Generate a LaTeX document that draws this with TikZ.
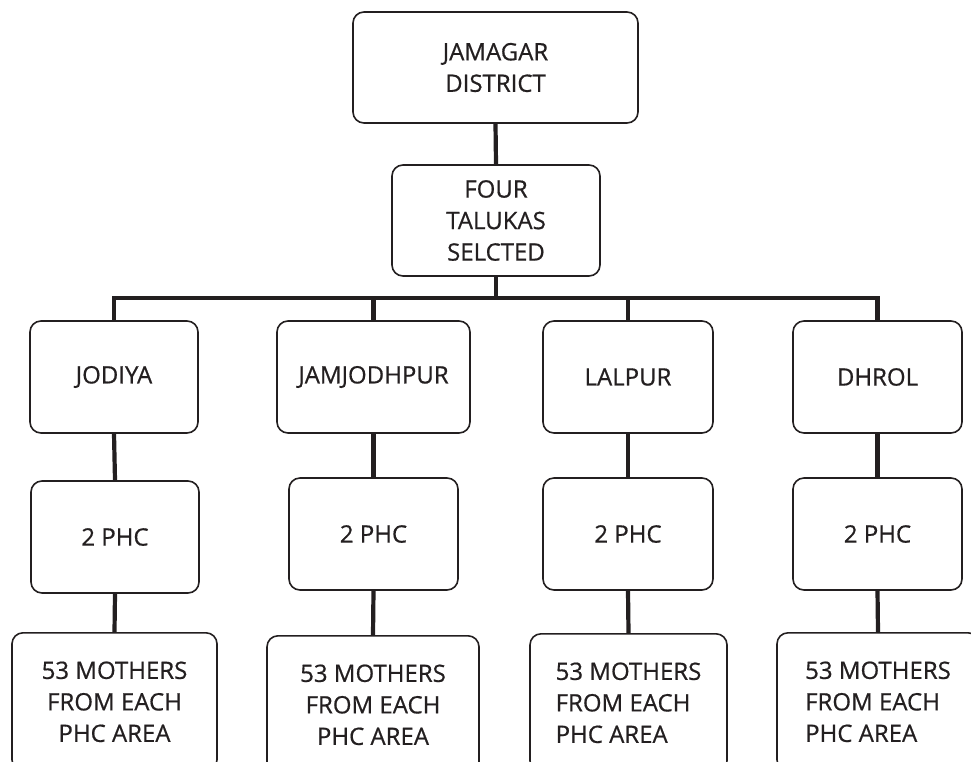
\documentclass[tikz,border=0pt]{standalone}
\usepackage{fontspec}
\setmainfont[FakeBold=0.6,AutoFakeBold=0.6]{Open Sans}
\definecolor{ink}{RGB}{35,31,32}
\begin{document}
\begin{tikzpicture}[x=1pt,y=-1pt,
  box/.style={draw=ink, line width=1.6pt, rounded corners=11pt, inner sep=0pt,
    text=ink, align=center, font=\fontsize{24}{31.5}\selectfont},
  conn/.style={draw=ink, line width=4.2pt, line join=miter, line cap=butt}]
\useasboundingbox (0,0) rectangle (971,761);
\clip (0,0) rectangle (971,761);
% top levels
\node[box, minimum width=285pt, minimum height=111pt] (top) at (495.5,67.5) {JAMAGAR\\DISTRICT};
\node[box, minimum width=208pt, minimum height=111pt] (sel) at (496,220.5) {FOUR\\TALUKAS\\SELCTED};
% talukas
\node[box, minimum width=168pt, minimum height=112pt] (j1) at (114,377) {JODIYA};
\node[box, minimum width=193pt, minimum height=112pt] (j2) at (373.5,377) {JAMJODHPUR};
\node[box, minimum width=170pt, minimum height=112pt] (j3) at (628,377) {LALPUR};
\node[box, minimum width=169pt, minimum height=112pt] (j4) at (877.5,377) {DHROL};
% PHC
\node[box, minimum width=168pt, minimum height=112pt] (p1) at (115,537) {2 PHC};
\node[box, minimum width=169pt, minimum height=112pt] (p2) at (373.5,534) {2 PHC};
\node[box, minimum width=170pt, minimum height=112pt] (p3) at (628,534) {2 PHC};
\node[box, minimum width=169pt, minimum height=112pt] (p4) at (877.5,534) {2 PHC};
% mothers
\node[box, minimum width=205pt, minimum height=138pt, anchor=north] (m1) at (114.5,632) {53 MOTHERS\\FROM EACH\\PHC AREA};
\node[box, minimum width=212pt, minimum height=138pt, anchor=north] (m2) at (373,635) {53 MOTHERS\\FROM EACH\\PHC AREA};
\node[box, minimum width=197pt, minimum height=138pt, anchor=north, align=left] (m3) at (628.5,633) {53 MOTHERS\\FROM EACH\\PHC AREA};
\node[box, minimum width=202pt, minimum height=138pt, anchor=north, align=left] (m4) at (878,632) {53 MOTHERS\\FROM EACH\\PHC AREA};
% connectors
\coordinate (bar) at (495,298);
\draw[conn] (top.south) -- (sel.north);
\draw[conn] (sel.south) -- (sel.south |- bar);
\draw[conn] (j1.north) -- (j1.north |- bar) -- (j4.north |- bar) -- (j4.north);
\draw[conn] (j2.north) -- (j2.north |- bar);
\draw[conn] (j3.north) -- (j3.north |- bar);
\draw[conn] (j1.south) -- (p1.north);
\draw[conn] (j2.south) -- (p2.north);
\draw[conn] (j3.south) -- (p3.north);
\draw[conn] (j4.south) -- (p4.north);
\draw[conn] (p1.south) -- (m1.north);
\draw[conn] (p2.south) -- (m2.north);
\draw[conn] (p3.south) -- (m3.north);
\draw[conn] (p4.south) -- (m4.north);
\end{tikzpicture}
\end{document}
